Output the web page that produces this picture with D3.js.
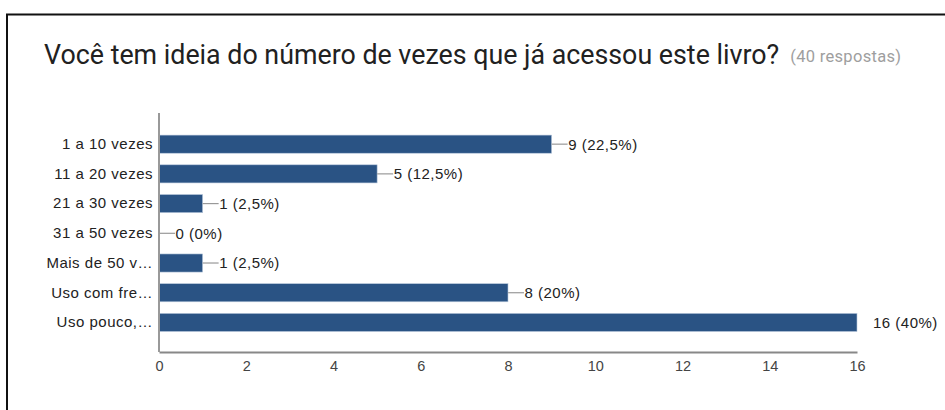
<!DOCTYPE html>
<html><head><meta charset="utf-8">
<script src="https://cdn.jsdelivr.net/npm/d3@7"></script>
<style>body{margin:0;background:#fff;}svg{display:block;}</style>
</head><body>
<svg id="c" width="945" height="410"></svg>
<script>
const categories = ["1 a 10 vezes","11 a 20 vezes","21 a 30 vezes","31 a 50 vezes","Mais de 50 v…","Uso com fre…","Uso pouco,…"];
const values = [9,5,1,0,1,8,16];
const percents = ["22,5%","12,5%","2,5%","0%","2,5%","20%","40%"];
const ticks = [0,2,4,6,8,10,12,14,16];
const title = "Você tem ideia do número de vezes que já acessou este livro?";
const subtitle = "(40 respostas)";

const svg = d3.select("#c");
// frame
svg.append("path").attr("d","M7,410 V14.5 H945").attr("fill","none").attr("stroke","#111").attr("stroke-width",2);

const t = svg.append("text").attr("x",44).attr("y",64)
  .attr("font-family","Roboto, Arial, sans-serif").attr("font-size",26.8).attr("fill","#212121").text(title);
const tw = t.node().getComputedTextLength();
svg.append("text").attr("x",44+tw+11).attr("y",62)
  .attr("font-family","Roboto, Arial, sans-serif").attr("font-size",16.5).attr("letter-spacing",0.3).attr("fill","#9e9e9e").text(subtitle);

const x = d3.scaleLinear().domain([0,16]).range([159,857]);
const y = d3.scaleBand().domain(categories).range([129.3,337.3]).paddingInner(0.39).paddingOuter(0.195);

const font = "Arial, 'Liberation Sans', sans-serif";

// bars
svg.append("g").selectAll("rect").data(values).join("rect")
  .attr("x",x(0)).attr("y",(d,i)=>y(categories[i]))
  .attr("width",d=>x(d)-x(0)).attr("height",y.bandwidth())
  .attr("fill","#2a5384").attr("stroke","#b9c8dc").attr("stroke-width",d=>d>0?0.6:0);

// x axis
const xa = svg.append("g").attr("transform","translate(0,352)")
  .call(d3.axisBottom(x).tickValues(ticks).tickSize(0).tickPadding(9));
xa.select(".domain").attr("stroke","#888").attr("stroke-width",2);
xa.selectAll("text").attr("font-family",font).attr("font-size",14.5).attr("fill","#444");

// y axis
const ya = svg.append("g").attr("transform","translate(159,0)")
  .call(d3.axisLeft(y).tickSize(0).tickPadding(6));
ya.select(".domain").remove();
svg.append("line").attr("x1",159).attr("x2",159).attr("y1",113).attr("y2",352).attr("stroke","#999").attr("stroke-width",2);
ya.selectAll("text").attr("font-family",font).attr("font-size",15).attr("letter-spacing",0.5).attr("fill","#222");

// value labels with leader lines
const lab = svg.append("g");
values.forEach((v,i)=>{
  const cy = y(categories[i]) + y.bandwidth()/2;
  const x0 = x(v);
  const isMax = v === d3.max(values);
  if(!isMax){
    lab.append("line").attr("x1",x0).attr("x2",x0+16).attr("y1",cy).attr("y2",cy).attr("stroke","#999").attr("stroke-width",1.2);
  }
  lab.append("text").attr("x",isMax? x0+16 : x0+16.5).attr("y",cy).attr("dy","0.36em")
    .attr("font-family",font).attr("font-size",15).attr("letter-spacing",0.5).attr("fill","#222")
    .text(v+" ("+percents[i]+")");
});
</script>
</body></html>
